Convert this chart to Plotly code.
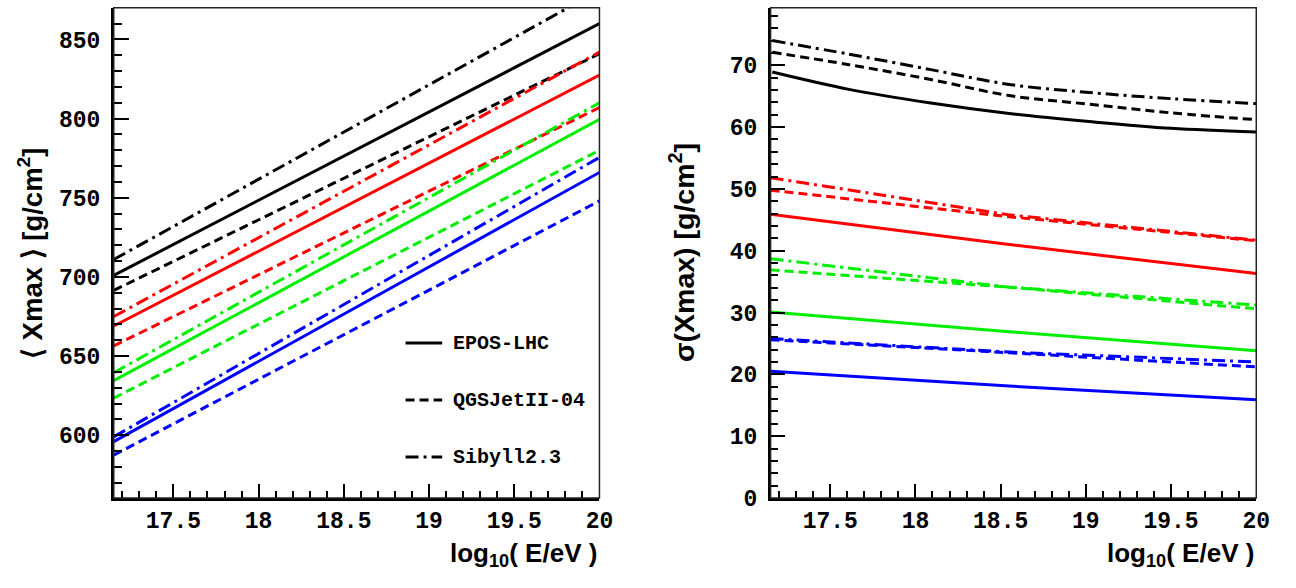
import plotly.graph_objects as go

# log10(E/eV) sample points
x_lin = [17.15, 20.0]

# <Xmax> [g/cm^2], straight lines in log10(E)
xmax_epos = {"p": [701, 860], "He": [669, 827.5], "N": [634.5, 799.5], "Fe": [596, 766]}
xmax_qgsj = {"p": [691.5, 841], "He": [656.5, 807], "N": [623.5, 780], "Fe": [587.5, 748]}
xmax_sib = {"p": [711, 881], "He": [675, 842], "N": [639.5, 810], "Fe": [599, 775.5]}

# sigma(Xmax) [g/cm^2]
x_sig_p = [17.16, 17.61, 18.09, 18.55, 19.02, 19.5, 20.0]
sig_epos_p = [68.9, 66.1, 63.9, 62.2, 60.9, 59.8, 59.2]
sig_qgsj_p = [72.1, 70.1, 67.7, 65.1, 63.7, 62.3, 61.2]
sig_sib_p = [74.0, 71.8, 69.3, 66.9, 65.6, 64.6, 63.8]

x_sig = [17.15, 18.55, 20.0]
sig_epos = {"He": [45.9, 41.0, 36.3], "N": [30.1, 26.9, 23.8], "Fe": [20.5, 18.1, 15.9]}
sig_qgsj = {"He": [49.8, 45.5, 41.6], "N": [36.9, 34.1, 30.6], "Fe": [25.6, 23.5, 21.2]}
sig_sib = {"He": [51.8, 45.8, 41.7], "N": [38.7, 34.1, 31.2], "Fe": [25.8, 23.6, 22.0]}

colors = {"p": "#000000", "He": "#ff0000", "N": "#00ee00", "Fe": "#0000ff"}
models = ["EPOS-LHC", "QGSJetII-04", "Sibyll2.3"]
dashes = {"EPOS-LHC": "solid", "QGSJetII-04": "9px,5px", "Sibyll2.3": "13px,5px,3px,5px"}

W, H = 1296, 588
L1, R1 = 115, 606
L2, R2 = 779, 1270
TOP, BOT = 8, 511


def px(v):
    return v / W


def py(v):
    return (H - v) / H


fig = go.Figure()

for model, table in zip(models, [xmax_epos, xmax_qgsj, xmax_sib]):
    for el, vals in table.items():
        fig.add_trace(go.Scatter(x=x_lin, y=vals, mode="lines", xaxis="x", yaxis="y",
                                 line=dict(color=colors[el], width=3, dash=dashes[model]),
                                 showlegend=False, hoverinfo="skip"))

for model, vals in zip(models, [sig_epos_p, sig_qgsj_p, sig_sib_p]):
    fig.add_trace(go.Scatter(x=x_sig_p, y=vals, mode="lines", xaxis="x2", yaxis="y2",
                             line=dict(color=colors["p"], width=3, dash=dashes[model], shape="spline"),
                             showlegend=False, hoverinfo="skip"))
for model, table in zip(models, [sig_epos, sig_qgsj, sig_sib]):
    for el, vals in table.items():
        fig.add_trace(go.Scatter(x=x_sig, y=vals, mode="lines", xaxis="x2", yaxis="y2",
                                 line=dict(color=colors[el], width=3, dash=dashes[model]),
                                 showlegend=False, hoverinfo="skip"))

tickfont = dict(family="Liberation Mono", size=23, color="black", weight="bold")
axis_common = dict(ticks="inside", tickwidth=2, tickcolor="black", showline=True,
                   linecolor="black", linewidth=2.5, showgrid=False, zeroline=False,
                   tickfont=tickfont)

xaxis_common = dict(axis_common, range=[17.15, 20.0], tick0=0, dtick=0.5, ticklen=14,
                    minor=dict(ticks="inside", ticklen=7, tick0=0, dtick=0.1,
                               tickwidth=1.5, tickcolor="black", showgrid=False))

fig.update_layout(
    width=W, height=H,
    margin=dict(l=0, r=0, t=0, b=0),
    paper_bgcolor="white", plot_bgcolor="white",
    xaxis=dict(xaxis_common, domain=[px(L1), px(R1)], anchor="y"),
    yaxis=dict(axis_common, domain=[py(BOT), py(TOP)], anchor="x", range=[560.4, 870],
               tick0=0, dtick=50, ticklen=15, ticklabelstandoff=6,
               minor=dict(ticks="inside", ticklen=8, tick0=0, dtick=10,
                          tickwidth=1.5, tickcolor="black", showgrid=False)),
    xaxis2=dict(xaxis_common, domain=[px(L2), px(R2)], anchor="y2"),
    yaxis2=dict(axis_common, domain=[py(BOT), py(TOP)], anchor="x2", range=[0, 79.3],
                tick0=0, dtick=10, ticklen=15, ticklabelstandoff=6,
                minor=dict(ticks="inside", ticklen=8, tick0=0, dtick=2,
                           tickwidth=1.5, tickcolor="black", showgrid=False)),
)

# thin frame on the top and right sides of each pad
for xa, ya in [("x", "y"), ("x2", "y2")]:
    fig.add_shape(type="rect", xref=f"{xa} domain", yref=f"{ya} domain",
                  x0=0, x1=1, y0=0, y1=1, line=dict(color="#222222", width=1.5),
                  layer="above")

title_font = dict(family="Liberation Sans", size=26, color="black", weight="bold")
xtitle = "log<sub>10</sub>( E/eV )"
for xr in [R1, R2]:
    fig.add_annotation(text=xtitle, xref="paper", yref="paper", x=px(xr), y=py(569),
                       xanchor="right", yanchor="middle", showarrow=False, font=title_font)

fig.add_annotation(text="⟨ Xmax ⟩ [g/cm<sup>2</sup>]", xref="paper", yref="paper",
                   x=px(31), y=py(260), textangle=-90, xanchor="center", yanchor="middle",
                   showarrow=False, font=dict(title_font, size=27.5))
fig.add_annotation(text="σ(Xmax) [g/cm<sup>2</sup>]", xref="paper", yref="paper",
                   x=px(690), y=py(259), textangle=-90, xanchor="center", yanchor="middle",
                   showarrow=False, font=dict(title_font, size=28.5))

# model key inside the left pad
legend_font = dict(family="Liberation Mono", size=20, color="black", weight="bold")
for model, ypos in zip(models, [352, 410.5, 469]):
    fig.add_shape(type="line", xref="paper", yref="paper", x0=px(410), x1=px(447),
                  y0=py(ypos), y1=py(ypos), line=dict(color="black", width=3, dash=dashes[model]))
    fig.add_annotation(text=model, xref="paper", yref="paper", x=px(456), y=py(ypos),
                       xanchor="left", yanchor="middle", showarrow=False, font=legend_font)

fig.write_html("out.html")
